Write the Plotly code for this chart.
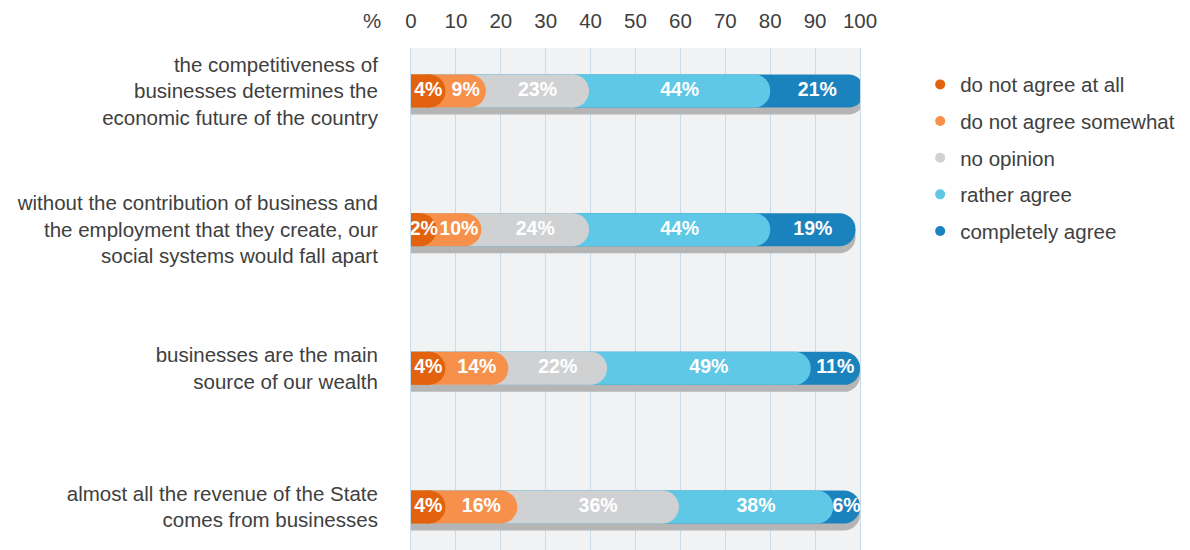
import plotly.graph_objects as go

categories = [
    "the competitiveness of<br>businesses determines the<br>economic future of the country",
    "without the contribution of business and<br>the employment that they create, our<br>social systems would fall apart",
    "businesses are the main<br>source of our wealth",
    "almost all the revenue of the State<br>comes from businesses",
]
series_names = ["do not agree at all", "do not agree somewhat", "no opinion",
                "rather agree", "completely agree"]
not_at_all = [4, 2, 4, 4]
somewhat = [9, 10, 14, 16]
no_opinion = [23, 24, 22, 36]
rather = [44, 44, 49, 38]
completely = [21, 19, 11, 6]
series_values = [not_at_all, somewhat, no_opinion, rather, completely]
colors = ["#e2620e", "#f6904a", "#d0d1d3", "#5ec8e6", "#1a83be"]
x_ticks = [0, 10, 20, 30, 40, 50, 60, 70, 80, 90, 100]

# layout constants (page body has an 8px margin)
W, H = 1182, 542
ML, MT = 403, 40
PLOT_W = 449
PLOT_H = H - MT
Y_RANGE = [3.31, -0.31]
PX_PER_CAT = PLOT_H / (Y_RANGE[0] - Y_RANGE[1])
BAR_PX = 33
BAR_W = BAR_PX / PX_PER_CAT
SHADOW_SHIFT = 7 / PX_PER_CAT
CAP = (BAR_PX / 2) / (PLOT_W / 100.0)   # cap radius in axis units

GRID = "#c6dceb"
FONT = "Liberation Sans"
TXT = "#404040"
FS = 20.5

# cumulative ends and starts
cums, starts = [], []
run = [0] * len(categories)
for vals in series_values:
    starts.append(run[:])
    run = [r + v for r, v in zip(run, vals)]
    cums.append(run[:])
totals = run
n = len(series_names)

fig = go.Figure()

# subplot 1: shadow and the full (last-segment) bar
fig.add_trace(go.Bar(
    y=categories, x=totals, orientation="h", width=BAR_W,
    offset=-BAR_W / 2 + SHADOW_SHIFT, yaxis="y",
    marker=dict(color="#b5b5b6", line_width=0, cornerradius="50%"),
    showlegend=False, hoverinfo="skip",
))
fig.add_trace(go.Bar(
    y=categories, x=cums[n - 1], orientation="h", width=BAR_W, offset=-BAR_W / 2,
    yaxis="y", marker=dict(color=colors[n - 1], line_width=0, cornerradius="50%"),
    name=series_names[n - 1], showlegend=False,
))

# subplot 2 (overlaid): remaining cumulative bars, largest first
for i in reversed(range(n - 1)):
    fig.add_trace(go.Bar(
        y=categories, x=cums[i], orientation="h", width=BAR_W, offset=-BAR_W / 2,
        yaxis="y2",
        marker=dict(color=colors[i], line_width=0, cornerradius="50%"),
        name=series_names[i], showlegend=False,
    ))

# protruding rounded caps for the earlier segments
for i in reversed(range(n - 2)):
    fig.add_trace(go.Scatter(
        y=categories, x=cums[i], mode="markers", yaxis="y2",
        marker=dict(color=colors[i], size=BAR_PX, symbol="circle", line_width=0),
        showlegend=False, hoverinfo="skip", cliponaxis=True,
    ))

# labels centred in each visible segment
for i in range(n):
    if i == 0:
        lo = [0 for _ in starts[i]]
    elif i == n - 1:
        lo = list(starts[i])
    else:
        lo = [s + CAP for s in starts[i]]
    if i >= n - 2:
        hi = list(cums[i])
    else:
        hi = [c + CAP for c in cums[i]]
    mids = [(a + b) / 2 for a, b in zip(lo, hi)]
    fig.add_trace(go.Scatter(
        y=categories, x=mids, mode="text", yaxis="y2",
        text=[f"<b>{v}%</b>" for v in series_values[i]],
        textfont=dict(color="white", size=19.5, family=FONT),
        showlegend=False, hoverinfo="skip",
    ))

# legend entries
for i, name in enumerate(series_names):
    fig.add_trace(go.Scatter(
        x=[None], y=[None], mode="markers", name=name, legendgroup=name,
        marker=dict(color=colors[i], size=10, symbol="circle"),
    ))

yax_common = dict(type="category", categoryorder="array", categoryarray=categories,
                  range=Y_RANGE, showgrid=False, zeroline=False)

fig.update_layout(
    width=W, height=H,
    margin=dict(l=ML, r=W - ML - PLOT_W, t=MT, b=0, autoexpand=False),
    barmode="overlay",
    plot_bgcolor="#f0f2f4", paper_bgcolor="white",
    font=dict(family=FONT, size=FS, color=TXT),
    legend=dict(x=1.134, xanchor="left", y=0.967, yanchor="top",
                tracegroupgap=7, font=dict(size=FS, color=TXT),
                itemwidth=30, bgcolor="rgba(0,0,0,0)"),
    showlegend=True,
    xaxis=dict(range=[0, 100], side="top", tickvals=x_ticks,
               ticktext=[str(t) for t in x_ticks], showgrid=True,
               gridcolor=GRID, gridwidth=1, zeroline=False,
               ticks="outside", ticklen=11, tickcolor="rgba(0,0,0,0)",
               tickfont=dict(size=FS, color=TXT), fixedrange=True,
               automargin=False),
    yaxis=dict(**yax_common,
               showline=True, mirror=True, linecolor=GRID, linewidth=1,
               ticks="outside", ticklen=28, tickcolor="rgba(0,0,0,0)",
               tickfont=dict(size=FS, color=TXT), automargin=False),
    yaxis2=dict(**yax_common, overlaying="y", visible=False, automargin=False),
    annotations=[dict(text="%", xref="paper", yref="paper", x=-0.087, y=1.0,
                      yshift=28, xanchor="center", yanchor="middle",
                      showarrow=False, font=dict(size=FS, color=TXT))],
)

fig.write_html("out.html")
